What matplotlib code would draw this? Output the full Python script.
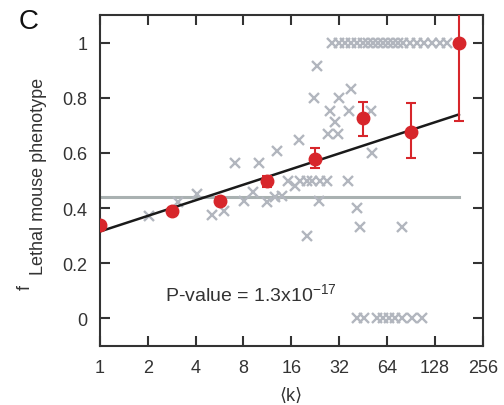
import numpy as np
import matplotlib
matplotlib.use("Agg")
import matplotlib.pyplot as plt

plt.rcParams['font.family'] = ['Liberation Sans', 'DejaVu Sans']

# binned averages (red points)
bin_k = [1, 2.83, 5.66, 11.3, 22.6, 45.3, 90.5, 181]
bin_frac = [0.337, 0.39, 0.427, 0.497, 0.579, 0.727, 0.676, 1.0]
err_low = [0.01, 0.01, 0.012, 0.02, 0.033, 0.065, 0.094, 0.284]
err_high = [0.01, 0.01, 0.012, 0.02, 0.039, 0.058, 0.105, 0.3]

# individual genes (grey crosses)
gene_k = [2.03, 3.09, 4.07, 5.06, 6.02, 7.05, 8.03, 9.15, 9.98, 11.2,
          12.6, 13.1, 13.9, 15.2, 16.8, 17.8, 18.1, 20.0, 20.0, 21.5,
          23.1, 22.1, 23.8, 24.1, 26.7, 27.1, 27.9, 30.0, 31.3, 31.8,
          36.2, 36.7, 37.8, 41.2, 43.0, 50.5, 51.2, 79.0]
gene_frac = [0.373, 0.423, 0.452, 0.376, 0.391, 0.564, 0.427, 0.459, 0.564, 0.423,
             0.441, 0.608, 0.445, 0.499, 0.481, 0.647, 0.499, 0.499, 0.300, 0.499,
             0.915, 0.799, 0.427, 0.499, 0.499, 0.669, 0.752, 0.712, 0.669, 0.799,
             0.499, 0.752, 0.832, 0.401, 0.333, 0.752, 0.600, 0.333]
top_k = [28.7, 31.8, 34.7, 37.8, 41.2, 45.0, 48.3, 52.0, 55.9, 60.1,
         64.6, 69.4, 74.6, 80.2, 88.8, 98.2, 108.7, 122, 137, 151.6]
bottom_k = [41.2, 45.6, 55.1, 60.1, 65.5, 71.4, 79.0, 91.4, 105.6]

# regression on log2 k and overall average
fit_intercept = 0.315
fit_slope = 0.0566
fit_range = [1, 181]
mean_frac = 0.441

x_ticks = [1, 2, 4, 8, 16, 32, 64, 128, 256]
y_ticks = [0, 0.2, 0.4, 0.6, 0.8, 1]

red = '#d7262b'
cross = '#b2b6be'
dark = '#333333'

fig = plt.figure(figsize=(5.04, 4.06), dpi=100)
ax = fig.add_axes([0.198, 0.1453, 0.760, 0.8153])

ax.plot(fit_range, [mean_frac, mean_frac], color='#a9b1b1', lw=2.2, zorder=1)

all_k = gene_k + top_k + bottom_k
all_f = gene_frac + [1.0] * len(top_k) + [0.0] * len(bottom_k)
ax.plot(all_k, all_f, ls='none', marker='x', ms=7.5, mew=1.7, color=cross, zorder=2)

kk = np.array(fit_range, dtype=float)
ax.plot(kk, fit_intercept + fit_slope * np.log2(kk), color='#1a1a1a', lw=1.8, zorder=3)

ax.errorbar(bin_k, bin_frac, yerr=[err_low, err_high], fmt='o', ms=9,
            color=red, ecolor=red, elinewidth=1.5, capsize=3.5, capthick=1.5,
            zorder=4, clip_on=True)

ax.set_xscale('log', base=2)
ax.set_xlim(1, 256)
ax.set_ylim(-0.1, 1.1)
ax.set_xticks(x_ticks)
ax.set_xticklabels([str(t) for t in x_ticks])
ax.set_yticks(y_ticks)
ax.set_yticklabels(['0', '0.2', '0.4', '0.6', '0.8', '1'])
ax.minorticks_off()

for sp in ax.spines.values():
    sp.set_color(dark)
    sp.set_linewidth(1.5)
ax.tick_params(direction='in', length=7, width=1.5, color=dark,
               labelsize=13, labelcolor=dark, top=True, right=True, pad=9)

ax.set_xlabel('\u27e8k\u27e9', fontsize=13, color=dark, labelpad=8)

fig.text(0.050, 0.293, 'f', rotation=90, fontsize=13, color=dark,
         ha='center', va='center')
fig.text(0.077, 0.566, 'Lethal mouse phenotype', rotation=90, fontsize=13,
         color=dark, ha='center', va='center')

ax.text(0.170, 0.157, r'P-value = 1.3x10$^{\mathregular{-17}}$', transform=ax.transAxes,
        fontsize=14, color=dark, ha='left', va='center')

fig.text(0.036, 0.945, 'C', fontsize=20, color='#111111', ha='left', va='center')

fig.savefig('out.png', dpi=100)
